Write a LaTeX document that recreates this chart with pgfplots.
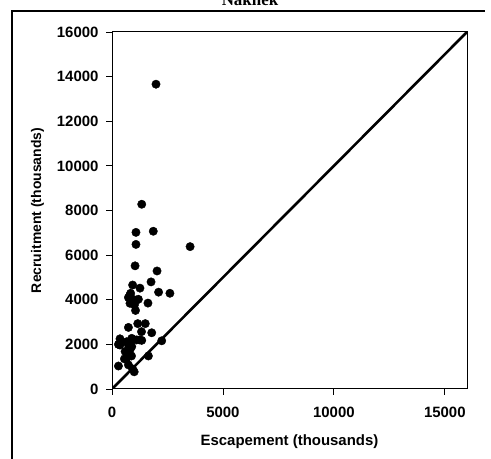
\documentclass[border=0pt]{standalone}
\usepackage{fontspec}
\setmainfont{Liberation Sans}
\newfontfamily\titlefont{Liberation Serif}
\usepackage{pgfplots}
\pgfplotsset{compat=1.18}

% Naknek sockeye: escapement vs. recruitment (thousands of fish)
\pgfplotstableread{
esc   rec
1983  13660
1340  8280
1080  7020
1860  7070
1080  6480
3520  6380
1040  5520
2030  5290
1760  4800
930   4660
1260  4520
840   4290
2100  4340
2610  4290
740   4100
810   4210
920   4030
1110  3990
1190  4020
810   3840
1010  3770
1620  3850
1060  3520
740   2760
1160  2930
1500  2930
1330  2570
1790  2520
360   2250
290   2000
660   2120
890   2270
960   2220
1110  2200
1240  2200
1340  2180
2240  2160
360   1970
740   1970
890   1900
590   1680
810   1750
1640  1480
560   1350
880   1480
660   1380
290   1030
740   1080
1000  770
930   900
}\naknek

\begin{document}
\begin{tikzpicture}[x=1bp,y=1bp]
\path[use as bounding box] (0,0) rectangle (491,459);
\clip (0,0) rectangle (491,459);
% page frame
\draw[line width=1.2bp] (12,-10) -- (12,448) -- (485,448);
\node[anchor=base, font=\titlefont\bfseries\fontsize{17}{20}\selectfont] at (250,453) {Naknek};
\begin{axis}[
  at={(112bp,70bp)}, anchor=south west,
  scale only axis, width=355bp, height=357bp,
  xmin=0, xmax=16000, ymin=0, ymax=16000,
  xtick={0,5000,10000,15000}, ytick={0,2000,...,16000},
  scaled ticks=false,
  /pgf/number format/assume math mode=true,
  /pgf/number format/1000 sep={},
  tick label style={font=\bfseries\fontsize{15}{18}\selectfont},
  xticklabel style={yshift=-9bp},
  yticklabel style={xshift=-4bp},
  tick align=outside, major tick length=6bp,
  xtick pos=left, ytick pos=left,
  tick style={black, line width=0.8bp},
  axis line style={line width=1bp},
  xlabel={Escapement (thousands)}, ylabel={Recruitment (thousands)},
  xlabel style={font=\bfseries\fontsize{15}{18}\selectfont, yshift=-10bp},
  ylabel style={font=\bfseries\fontsize{14}{16}\selectfont, yshift=6bp},
]
\addplot[only marks, mark=*, mark size=4.2bp, black] table[x=esc, y=rec] {\naknek};
% replacement line (recruitment = escapement)
\addplot[black, line width=2.6bp] coordinates {(0,0) (16000,16000)};
\end{axis}
\end{tikzpicture}
\end{document}
